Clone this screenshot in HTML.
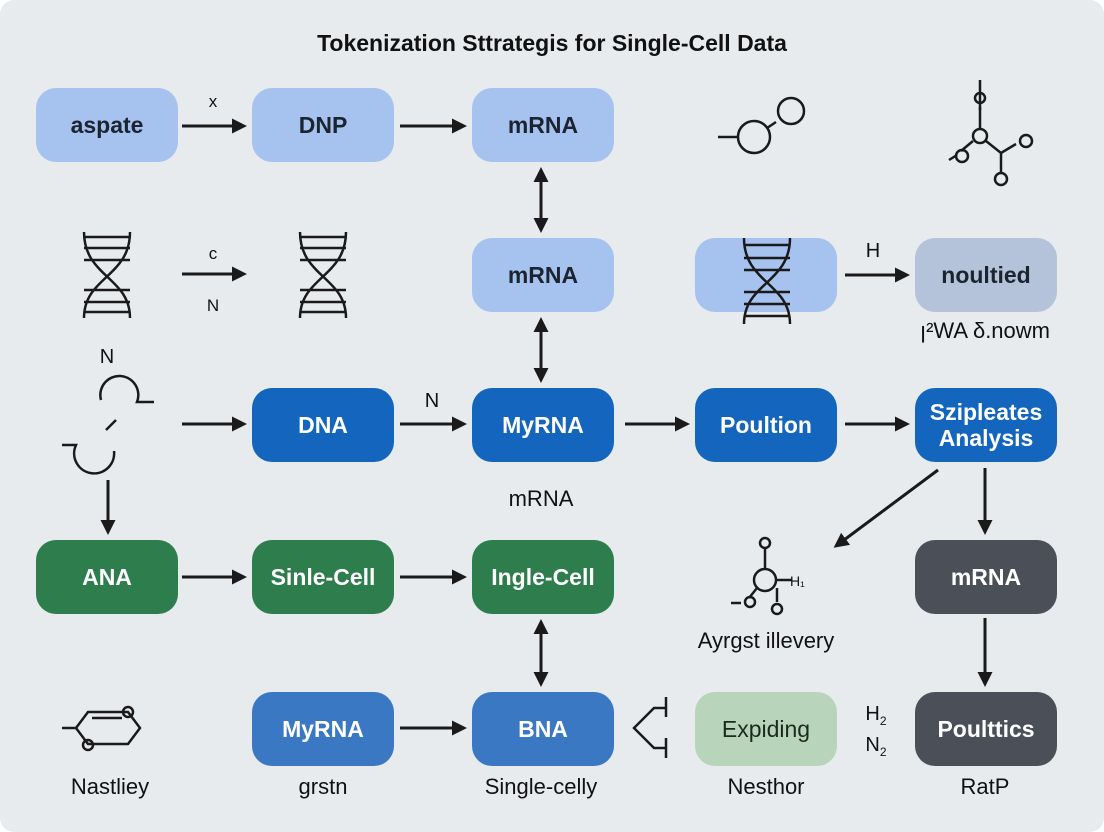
<!DOCTYPE html>
<html><head><meta charset="utf-8"><style>
body{margin:0;background:#fff}
.c{position:relative;width:1104px;height:832px;background:#e8ebee;border-radius:14px;overflow:hidden;font-family:"Liberation Sans",sans-serif}
.n{position:absolute;width:142px;height:74px;border-radius:20px;display:flex;align-items:center;justify-content:center;text-align:center;font-weight:bold;font-size:23px;line-height:26px}
.lb{background:#a6c3ef;color:#1c2430}
.db{background:#1465bd;color:#fff}
.mb{background:#3a78c4;color:#fff}
.gr{background:#2e7d4d;color:#fff}
.gy{background:#4b5058;color:#fff}
.t{position:absolute;font-size:22px;color:#111;transform:translateX(-50%);white-space:nowrap}
svg{position:absolute;left:0;top:0}
</style></head><body><div class="c">
<div class="t" style="left:552px;top:30px;font-weight:bold;font-size:23px">Tokenization Sttrategis for Single-Cell Data</div>
<div class="n lb" style="left:36px;top:88px">aspate</div>
<div class="n lb" style="left:252px;top:88px">DNP</div>
<div class="n lb" style="left:472px;top:88px">mRNA</div>
<div class="n lb" style="left:472px;top:238px">mRNA</div>
<div class="n lb" style="left:695px;top:238px"></div>
<div class="n" style="left:915px;top:238px;background:#b4c3da;color:#1c2430">noultied</div>
<div class="n db" style="left:252px;top:388px">DNA</div>
<div class="n db" style="left:472px;top:388px">MyRNA</div>
<div class="n db" style="left:695px;top:388px">Poultion</div>
<div class="n db" style="left:915px;top:388px">Szipleates Analysis</div>
<div class="n gr" style="left:36px;top:540px">ANA</div>
<div class="n gr" style="left:252px;top:540px">Sinle-Cell</div>
<div class="n gr" style="left:472px;top:540px">Ingle-Cell</div>
<div class="n gy" style="left:915px;top:540px">mRNA</div>
<div class="n mb" style="left:252px;top:692px">MyRNA</div>
<div class="n mb" style="left:472px;top:692px">BNA</div>
<div class="n" style="left:695px;top:692px;background:#b8d5bb;color:#1c2a1e;font-weight:normal">Expiding</div>
<div class="n gy" style="left:915px;top:692px">Poulttics</div>
<div class="t" style="left:213px;top:92px;font-size:17px">x</div>
<div class="t" style="left:213px;top:244px;font-size:17px">c</div>
<div class="t" style="left:213px;top:296px;font-size:17px">N</div>
<div class="t" style="left:107px;top:346px;font-size:20px">N</div>
<div class="t" style="left:432px;top:390px;font-size:20px">N</div>
<div class="t" style="left:873px;top:240px;font-size:20px">H</div>
<div class="t" style="left:985px;top:318px">ꞁ²WA δ.nowm</div>
<div class="t" style="left:541px;top:486px">mRNA</div>
<div class="t" style="left:766px;top:628px">Ayrgst illevery</div>
<div class="t" style="left:876px;top:702px;font-size:20px;line-height:24px">H<sub style="font-size:12px">2</sub><br>N<sub style="font-size:12px">2</sub></div>
<div class="t" style="left:110px;top:774px">Nastliey</div>
<div class="t" style="left:323px;top:774px">grstn</div>
<div class="t" style="left:541px;top:774px">Single-celly</div>
<div class="t" style="left:766px;top:774px">Nesthor</div>
<div class="t" style="left:985px;top:774px">RatP</div>
<svg width="1104" height="832" fill="none" stroke="#1a1a1a" stroke-width="3">
<defs><marker id="a" viewBox="0 0 10 10" refX="8" refY="5" markerWidth="5" markerHeight="5" orient="auto-start-reverse"><path d="M0,0L10,5L0,10z" fill="#1a1a1a" stroke="none"/></marker></defs>
<g marker-end="url(#a)">
<line x1="182" y1="126" x2="244" y2="126"/><line x1="400" y1="126" x2="464" y2="126"/>
<line x1="182" y1="274" x2="244" y2="274"/><line x1="845" y1="275" x2="907" y2="275"/>
<line x1="182" y1="424" x2="244" y2="424"/><line x1="400" y1="424" x2="464" y2="424"/>
<line x1="625" y1="424" x2="687" y2="424"/><line x1="845" y1="424" x2="907" y2="424"/>
<line x1="108" y1="480" x2="108" y2="532"/>
<line x1="182" y1="577" x2="244" y2="577"/><line x1="400" y1="577" x2="464" y2="577"/>
<line x1="985" y1="468" x2="985" y2="532"/><line x1="985" y1="618" x2="985" y2="684"/>
<line x1="938" y1="470" x2="836" y2="546"/>
<line x1="400" y1="728" x2="464" y2="728"/>
<line x1="541" y1="170" x2="541" y2="230" marker-start="url(#a)"/>
<line x1="541" y1="320" x2="541" y2="380" marker-start="url(#a)"/>
<line x1="541" y1="622" x2="541" y2="684" marker-start="url(#a)"/>
</g>
<g stroke-width="2.5">
<path d="M84,232c0,45 46,45 46,86M130,232c0,45 -46,45 -46,86M84,237h46M84,248h46M84,260h46M84,290h46M84,302h46M84,312h46"/>
<path d="M300,232c0,45 46,45 46,86M346,232c0,45 -46,45 -46,86M300,237h46M300,248h46M300,260h46M300,290h46M300,302h46M300,312h46"/>
<path d="M744,238c0,45 46,45 46,86M790,238c0,45 -46,45 -46,86M744,245h46M744,258h46M744,270h46M744,292h46M744,304h46M744,316h46"/>
<path d="M101,400a19,19 0 1 1 36,2h17M116,420l-10,10M62,445h14a20,20 0 1 0 38,6"/>
<path d="M718,137h20"/><circle cx="754" cy="137" r="16"/><path d="M767,128l9,-6"/><circle cx="791" cy="111" r="13"/>
<path d="M980,80v30"/><circle cx="980" cy="98" r="5"/><circle cx="980" cy="136" r="7"/><path d="M980,107v22M986,141l15,12l15,-9M1001,153v20M973,141l-12,10M957,155l-8,5"/><circle cx="1026" cy="141" r="6"/><circle cx="1001" cy="179" r="6"/><circle cx="962" cy="156" r="6"/>
<circle cx="765" cy="580" r="11"/><path d="M765,548v21M776,580h16M777,588v14M757,588l-8,10M731,603h10"/><circle cx="765" cy="543" r="5"/><circle cx="750" cy="602" r="5"/><circle cx="777" cy="609" r="5"/>
<text x="790" y="586" font-size="14" fill="#111" stroke="none" font-family="Liberation Sans">H₁</text>
<path d="M666,697v20M666,708h-12l-20,20l20,20h12M666,738v20"/>
<path d="M62,728h14l12,-16h40l12,16l-12,16h-40l-12,-16M92,718h30"/><circle cx="128" cy="712" r="5"/><circle cx="88" cy="745" r="5"/>
</g>
</svg>
</div></body></html>
